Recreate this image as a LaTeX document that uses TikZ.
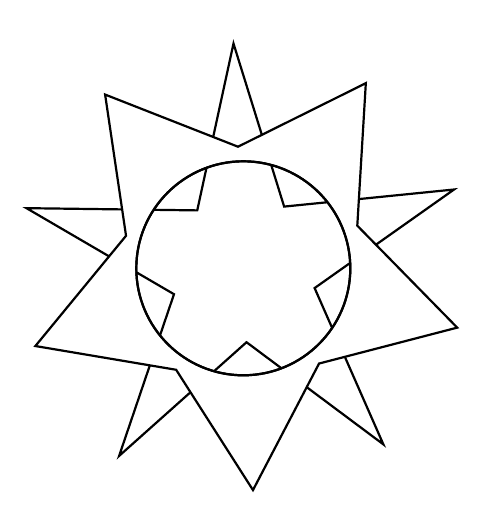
\documentclass[tikz,border=0pt]{standalone}
\begin{document}
\begin{tikzpicture}[x=1bp,y=1bp,line width=2.2bp,line join=miter,
  outline/.style={draw=black,fill=white},
  lineonly/.style={draw=black}]
\useasboundingbox (0,0) rectangle (489,512);
\begin{scope}[shift={(243.3,243.7)}]
  % thin star (behind)
  \path[outline] (92.5:225) -- (128.5:74) -- (164.5:225) -- (200.5:74) -- (236.5:225)
    -- (272.5:74) -- (308.5:225) -- (344.5:74) -- (20.5:225) -- (56.5:74) -- cycle;
  % big star
  \path[outline] (128.5:222) -- (164.5:121.7) -- (200.5:222) -- (236.5:121.7) -- (272.5:222)
    -- (308.5:121.7) -- (344.5:222) -- (20.5:121.7) -- (56.5:222) -- (92.5:121.7) -- cycle;
  % circle
  \path[outline] (0,0) circle (107);
  \begin{scope}
    \clip (0,0) circle (107);
    \path[lineonly] (92.5:225) -- (128.5:74) -- (164.5:225) -- (200.5:74) -- (236.5:225)
      -- (272.5:74) -- (308.5:225) -- (344.5:74) -- (20.5:225) -- (56.5:74) -- cycle;
  \end{scope}
  \path[lineonly] (0,0) circle (107);
\end{scope}
\end{tikzpicture}
\end{document}
